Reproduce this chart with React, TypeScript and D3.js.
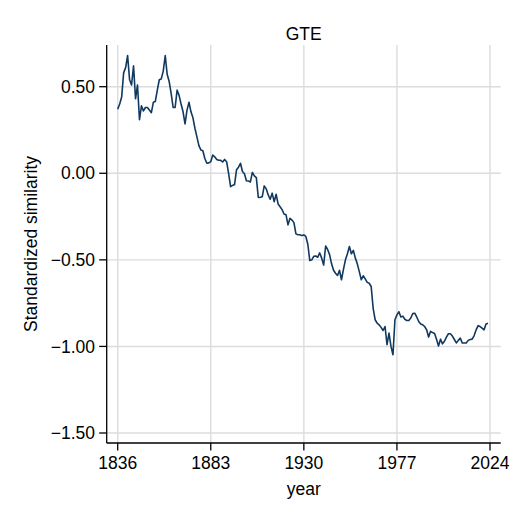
import React from "react";
import * as d3 from "d3";

const title = "GTE";
const xLabel = "year";
const yLabel = "Standardized similarity";
const startYear = 1836;
const similarity: number[] = [
  0.37, 0.40, 0.44, 0.58, 0.61, 0.68, 0.54, 0.51, 0.62, 0.43,
  0.51, 0.31, 0.39, 0.36, 0.38, 0.38, 0.365, 0.35, 0.41, 0.415,
  0.48, 0.54, 0.545, 0.59, 0.68, 0.57, 0.53, 0.46, 0.38, 0.38,
  0.48, 0.45, 0.40, 0.355, 0.285, 0.365, 0.41, 0.355, 0.32, 0.26,
  0.21, 0.16, 0.135, 0.13, 0.085, 0.058, 0.06, 0.067, 0.105, 0.095,
  0.08, 0.075, 0.075, 0.065, 0.08, 0.067, 0.0, -0.077, -0.07, -0.065,
  0.02, 0.035, 0.058, 0.01, -0.003, -0.043, -0.045, -0.05, 0.005, -0.015,
  -0.025, -0.14, -0.138, -0.135, -0.073, -0.09, -0.125, -0.15, -0.115, -0.164,
  -0.121, -0.177, -0.193, -0.21, -0.235, -0.24, -0.298, -0.26, -0.27, -0.285,
  -0.35, -0.355, -0.355, -0.36, -0.356, -0.365, -0.41, -0.504, -0.50, -0.48,
  -0.478, -0.485, -0.46, -0.49, -0.53, -0.42, -0.44, -0.47, -0.523, -0.56,
  -0.577, -0.59, -0.56, -0.615, -0.555, -0.50, -0.465, -0.423, -0.465, -0.445,
  -0.49, -0.523, -0.568, -0.615, -0.592, -0.61, -0.63, -0.635, -0.654, -0.78,
  -0.846, -0.866, -0.875, -0.89, -0.908, -0.885, -0.99, -0.923, -1.0, -1.048,
  -0.846, -0.818, -0.80, -0.83, -0.825, -0.843, -0.85, -0.85, -0.836, -0.81,
  -0.808, -0.83, -0.856, -0.87, -0.875, -0.885, -0.904, -0.946, -0.913, -0.92,
  -0.925, -0.958, -0.997, -0.958, -0.985, -0.97, -0.946, -0.927, -0.927, -0.94,
  -0.96, -0.98, -0.965, -0.952, -0.98, -0.98, -0.98, -0.965, -0.96, -0.958,
  -0.937, -0.904, -0.88, -0.885, -0.894, -0.904, -0.87, -0.866,
];
const xTicks = [1836, 1883, 1930, 1977, 2024];
const yTicks = [0.5, 0, -0.5, -1, -1.5];

const W = 520;
const H = 520;
const FONT = "'Liberation Sans', Arial, Helvetica, sans-serif";

export default function App() {
  const x = d3.scaleLinear().domain([1836, 2024]).range([117.7, 490]);
  const y = d3.scaleLinear().domain([-1.5, 0.5]).range([433, 86.7]);
  const plotLeft = 106.7;
  const plotRight = 500.7;
  const plotTop = 45;
  const plotBottom = 443;

  const data = similarity.map((v, i) => ({ year: startYear + i, v }));
  const line = d3
    .line<{ year: number; v: number }>()
    .x((d) => x(d.year))
    .y((d) => y(d.v));

  const fmt = d3.format(".2f");

  return (
    <svg
      width={W}
      height={H}
      style={{ position: "absolute", left: 0, top: 0, background: "#fff" }}
      fontFamily={FONT}
    >
      <rect x={0} y={0} width={W} height={H} fill="#fff" />
      {yTicks.map((t) => (
        <line
          key={"gy" + t}
          x1={plotLeft}
          x2={plotRight}
          y1={y(t)}
          y2={y(t)}
          stroke="#dcdcdc"
          strokeWidth={1.4}
        />
      ))}
      {xTicks.map((t) => (
        <line
          key={"gx" + t}
          x1={x(t)}
          x2={x(t)}
          y1={plotTop}
          y2={plotBottom}
          stroke="#dcdcdc"
          strokeWidth={1.4}
        />
      ))}
      <path d={line(data) || ""} fill="none" stroke="#10395f" strokeWidth={1.6} strokeLinejoin="round" />
      <line x1={plotLeft} x2={plotLeft} y1={plotTop} y2={plotBottom} stroke="#000" strokeWidth={1.3} />
      <line x1={plotLeft} x2={plotRight} y1={plotBottom} y2={plotBottom} stroke="#000" strokeWidth={1.3} />
      {yTicks.map((t) => (
        <g key={"ty" + t}>
          <line x1={plotLeft - 7.5} x2={plotLeft} y1={y(t)} y2={y(t)} stroke="#000" strokeWidth={1.3} />
          <text x={95} y={y(t) + 6.2} textAnchor="end" fontSize={17.5} fill="#000">
            {fmt(t)}
          </text>
        </g>
      ))}
      {xTicks.map((t) => (
        <g key={"tx" + t}>
          <line x1={x(t)} x2={x(t)} y1={plotBottom} y2={plotBottom + 7.5} stroke="#000" strokeWidth={1.3} />
          <text x={x(t)} y={468.5} textAnchor="middle" fontSize={17.5} fill="#000">
            {t}
          </text>
        </g>
      ))}
      <text x={303.7} y={39.5} textAnchor="middle" fontSize={17.5} fill="#000">
        {title}
      </text>
      <text x={303.7} y={494.5} textAnchor="middle" fontSize={17.5} fill="#000">
        {xLabel}
      </text>
      <text
        transform={`translate(36.5, 244) rotate(-90)`}
        textAnchor="middle"
        fontSize={17.5}
        fill="#000"
      >
        {yLabel}
      </text>
    </svg>
  );
}
